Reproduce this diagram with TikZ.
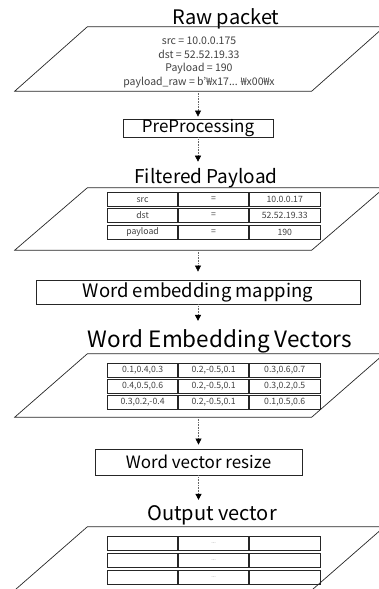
\documentclass[tikz,border=0pt]{standalone}
\usepackage{fontspec}
\setmainfont{Noto Sans CJK KR}
\usetikzlibrary{arrows.meta,calc}
\begin{document}
\begin{tikzpicture}[x=1pt,y=-1pt,
  ttl/.style={font=\fontsize{20}{24}\selectfont, anchor=base, inner sep=0},
  procbox/.style={draw=black!85, line width=0.8pt, inner sep=0, font=\fontsize{17}{20}\selectfont},
  frame/.style={inner sep=0, minimum width=224pt},
  para/.style={draw=black!85, line width=0.7pt},
  cell/.style={draw=black!85, line width=0.8pt, inner sep=0, minimum width=70.3pt, minimum height=14pt, font=\fontsize{8.7}{9}\selectfont, text=black!75},
  conn/.style={black!60, densely dotted, line width=0.6pt, -{Triangle[length=6pt,width=6pt,black]}},
  rawtxt/.style={align=center, inner sep=0, text=black!75, font=\fontsize{10.5}{13.7}\selectfont}
]
\useasboundingbox (0,0) rectangle (378,589);

% ---------- Raw packet ----------
\node[ttl] (ttl1) at (226,24) {Raw packet};
\node[frame, minimum height=64pt] (p1) at (199.5,59) {};
\draw[para] (p1.north west) -- ++(297,0) -- (p1.south east) -- ++(-297,0) -- cycle;
\node[rawtxt] (t1) at (199,62.5) {src = 10.0.0.175\\dst = 52.52.19.33\\Payload = 190\\payload\_raw = b'₩x17... ₩x00₩x};

% ---------- PreProcessing ----------
\node[procbox, minimum width=150pt, minimum height=18pt] (pre) at (198,128) {PreProcessing};

% ---------- Filtered Payload ----------
\node[ttl, font=\fontsize{19}{23}\selectfont] (ttl2) at (206,183) {Filtered Payload};
\node[frame, minimum height=62pt] (p2) at (199.5,219) {};
\draw[para] (p2.north west) -- ++(297,0) -- (p2.south east) -- ++(-297,0) -- cycle;
\foreach \r/\top/\a/\b/\c in {1/192.3/src/=/10.0.0.17, 2/207.7/dst/=/52.52.19.33, 3/225/payload/=/190}{
  \node[cell, anchor=north west] (f\r a) at (107,\top) {\a};
  \node[cell, anchor=west] (f\r b) at (f\r a.east) {\b};
  \node[cell, anchor=west] (f\r c) at (f\r b.east) {\c};
}

% ---------- Word embedding mapping ----------
\node[procbox, minimum width=324pt, minimum height=24pt, font=\fontsize{18.5}{22}\selectfont] (map) at (198,292) {Word embedding mapping};

% ---------- Word Embedding Vectors ----------
\node[ttl, font=\fontsize{22.5}{26}\selectfont] (ttl3) at (220,347) {Word Embedding Vectors};
\node[frame, minimum height=63pt] (p3) at (199.5,385.5) {};
\draw[para] (p3.north west) -- ++(297,0) -- (p3.south east) -- ++(-297,0) -- cycle;
\foreach \r/\top/\a/\b/\c in {1/363/{0.1,0.4,0.3}/{0.2,-0.5,0.1}/{0.3,0.6,0.7}, 2/378.5/{0.4,0.5,0.6}/{0.2,-0.5,0.1}/{0.3,0.2,0.5}, 3/394.5/{0.3,0.2,-0.4}/{0.2,-0.5,0.1}/{0.1,0.5,0.6}}{
  \node[cell, anchor=north west] (w\r a) at (107,\top) {\a};
  \node[cell, anchor=west] (w\r b) at (w\r a.east) {\b};
  \node[cell, anchor=west] (w\r c) at (w\r b.east) {\c};
}

% ---------- Word vector resize ----------
\node[procbox, minimum width=207pt, minimum height=26pt] (res) at (198.5,462) {Word vector resize};

% ---------- Output vector ----------
\node[ttl] (ttl4) at (212,520) {Output vector};
\node[frame, minimum height=63pt] (p4) at (199.5,558.5) {};
\draw[para] (p4.north west) -- ++(297,0) -- (p4.south east) -- ++(-297,0) -- cycle;
\foreach \r/\top in {1/536, 2/552.5, 3/569.5}{
  \node[cell, anchor=north west] (o\r a) at (107,\top) {};
  \node[cell, anchor=west, font=\fontsize{5.5}{6}\selectfont, text=black!50] (o\r b) at (o\r a.east) {...};
  \node[cell, anchor=west] (o\r c) at (o\r b.east) {};
}

% ---------- connectors ----------
\draw[conn, shorten >=2pt] (p1.south -| pre.north) -- (pre.north);
\draw[conn] (pre.south) -- ($(pre.south |- ttl2.north)+(0,-6)$);
\draw[conn, shorten >=8pt] (p2.south -| map.north) -- (map.north);
\draw[conn] (map.south) -- ($(map.south |- ttl3.north)+(0,-8)$);
\draw[conn, shorten >=4pt] (p3.south -| res.north) -- (res.north);
\draw[conn] (res.south) -- ($(res.south |- ttl4.north)+(0,-5)$);
\end{tikzpicture}
\end{document}
